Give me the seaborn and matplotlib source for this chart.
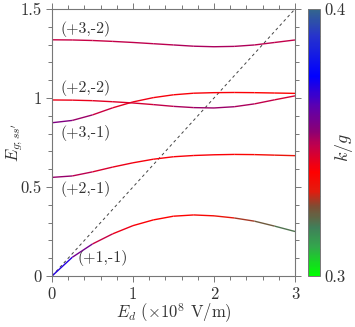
import numpy as np
import matplotlib
matplotlib.use("Agg")
import matplotlib.pyplot as plt
import seaborn as sns
from matplotlib.collections import LineCollection
from matplotlib.colors import LinearSegmentedColormap, Normalize
from matplotlib.ticker import MultipleLocator, FixedLocator


# field strength grid (x 10^8 V/m)
e_d = [0, 0.25, 0.5, 0.75, 1.0, 1.25, 1.5, 1.75, 2.0, 2.25, 2.5, 2.75, 3.0]

# energies, one list per branch
e_p1m1 = [0, 0.105, 0.180, 0.237, 0.283, 0.315, 0.336, 0.343, 0.338, 0.326, 0.308, 0.280, 0.250]
e_p2m1 = [0.554, 0.562, 0.585, 0.612, 0.636, 0.656, 0.670, 0.677, 0.681, 0.683, 0.682, 0.679, 0.676]
e_p3m1 = [0.861, 0.874, 0.905, 0.945, 0.978, 1.002, 1.018, 1.027, 1.030, 1.031, 1.030, 1.028, 1.026]
e_p2m2 = [0.989, 0.988, 0.985, 0.979, 0.972, 0.963, 0.953, 0.946, 0.944, 0.951, 0.967, 0.990, 1.012]
e_p3m2 = [1.327, 1.326, 1.323, 1.318, 1.312, 1.305, 1.298, 1.291, 1.288, 1.290, 1.298, 1.312, 1.326]

# k/g along each branch (colour)
k_p1m1 = [0.376, 0.365, 0.352, 0.344, 0.340, 0.339, 0.339, 0.338, 0.336, 0.331, 0.326, 0.322, 0.318]
k_p2m1 = [0.354, 0.352, 0.347, 0.343, 0.341, 0.340, 0.340, 0.340, 0.340, 0.339, 0.337, 0.335, 0.332]
k_p3m1 = [0.358, 0.355, 0.350, 0.345, 0.342, 0.341, 0.340, 0.340, 0.340, 0.340, 0.339, 0.339, 0.338]
k_p2m2 = [0.342, 0.342, 0.343, 0.344, 0.345, 0.347, 0.350, 0.352, 0.353, 0.352, 0.350, 0.347, 0.345]
k_p3m2 = [0.348, 0.348, 0.348, 0.348, 0.349, 0.349, 0.350, 0.351, 0.351, 0.351, 0.350, 0.349, 0.348]

branch_labels = ["(+1,-1)", "(+2,-1)", "(+3,-1)", "(+2,-2)", "(+3,-2)"]
label_pos = [(0.31, 0.10), (0.11, 0.489), (0.11, 0.803), (0.11, 1.056), (0.11, 1.39)]

diag_x = [0, 3]
diag_y = [0, 1.5]

cmap_nodes = [
    (0.00, (0.00, 1.00, 0.00)),
    (0.11, (0.20, 0.65, 0.30)),
    (0.18, (0.25, 0.50, 0.35)),
    (0.26, (0.50, 0.30, 0.20)),
    (0.32, (0.90, 0.10, 0.05)),
    (0.39, (1.00, 0.00, 0.00)),
    (0.49, (0.75, 0.00, 0.30)),
    (0.54, (0.55, 0.00, 0.45)),
    (0.64, (0.35, 0.00, 0.70)),
    (0.75, (0.00, 0.00, 1.00)),
    (0.90, (0.15, 0.20, 0.80)),
    (1.00, (0.20, 0.40, 0.55)),
]
kg_cmap = LinearSegmentedColormap.from_list("kg", cmap_nodes)
norm = Normalize(0.3, 0.4)

sns.set_style("ticks")
plt.rcParams["font.family"] = ["cmr10"]
plt.rcParams["mathtext.fontset"] = "cm"
plt.rcParams["axes.unicode_minus"] = False
plt.rcParams["axes.formatter.use_mathtext"] = True

fig = plt.figure(figsize=(3.55, 3.27), dpi=100)
ax = fig.add_axes([52 / 355, 51 / 327, 243 / 355, 267 / 327])
cax = fig.add_axes([308 / 355, 51 / 327, 12 / 355, 267 / 327])

sns.lineplot(x=diag_x, y=diag_y, ax=ax, color="#444444", lw=0.7,
             linestyle=(0, (3, 3)))

for ys, ks in [(e_p1m1, k_p1m1), (e_p2m1, k_p2m1), (e_p3m1, k_p3m1),
               (e_p2m2, k_p2m2), (e_p3m2, k_p3m2)]:
    pts = np.column_stack([e_d, ys])
    segs = np.stack([pts[:-1], pts[1:]], axis=1)
    kk = np.asarray(ks)
    lc = LineCollection(segs, cmap=kg_cmap, norm=norm, linewidths=1.0)
    lc.set_array((kk[:-1] + kk[1:]) / 2)
    ax.add_collection(lc)

for lab, (tx, ty) in zip(branch_labels, label_pos):
    ax.text(tx, ty, lab, fontsize=11.5, color="#333333", ha="left", va="center")

ax.set_xlim(0, 3)
ax.set_ylim(0, 1.5)
ax.xaxis.set_major_locator(FixedLocator([0, 1, 2, 3]))
ax.set_xticklabels(["0", "1", "2", "3"])
ax.xaxis.set_minor_locator(MultipleLocator(0.2))
ax.yaxis.set_major_locator(FixedLocator([0, 0.5, 1, 1.5]))
ax.set_yticklabels(["0", "0.5", "1", "1.5"])
ax.yaxis.set_minor_locator(MultipleLocator(0.1))
ax.tick_params(which="both", direction="out", top=True, right=True,
               color="#777777", width=0.7, labelsize=12, labelcolor="#333333")
ax.tick_params(which="major", length=4)
ax.tick_params(which="minor", length=3)
for s in ax.spines.values():
    s.set_visible(True)
    s.set_color("#777777")
    s.set_linewidth(0.8)

ax.set_xlabel(r"$E_d$ (${\times}10^8$ V/m)", fontsize=12, color="#333333", labelpad=0)
ax.set_ylabel(r"$E_{g;ss'}$", fontsize=12, color="#333333")
ax.yaxis.set_label_coords(-0.11, 0.5)

cb = fig.colorbar(plt.cm.ScalarMappable(norm=norm, cmap=kg_cmap), cax=cax)
cb.outline.set_edgecolor("#777777")
cb.outline.set_linewidth(0.7)
cax.yaxis.set_major_locator(FixedLocator([0.3, 0.4]))
cax.set_yticklabels(["0.3", "0.4"])
cax.yaxis.set_minor_locator(FixedLocator(np.arange(0.31, 0.395, 0.01)))
cax.tick_params(which="both", direction="in", left=True, right=True,
                color="#111111", width=0.6, labelsize=12, labelcolor="#333333", pad=3)
cax.tick_params(which="major", length=0)
cax.tick_params(which="minor", length=2.5)
cax.text(3.0, 0.48, r"$k/g$", transform=cax.transAxes, rotation=90,
         fontsize=13, color="#333333", ha="center", va="center")

fig.savefig("out.png", dpi=100)
